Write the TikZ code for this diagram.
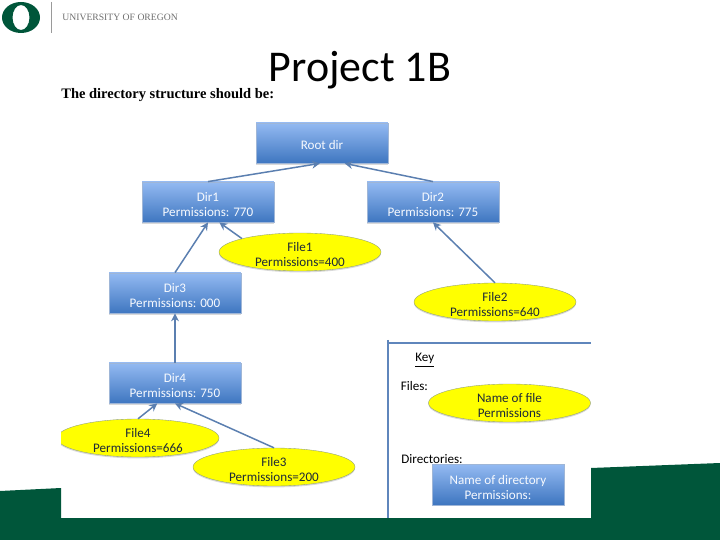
\documentclass[tikz,border=0pt]{standalone}
\usepackage{fontspec}
\setmainfont{Carlito}
\newfontfamily\headfont{Liberation Serif}
\usetikzlibrary{shapes.geometric,arrows.meta,shadows}
\definecolor{UOGreen}{HTML}{00563A}
\definecolor{UOGrey}{HTML}{6E6E6E}
\definecolor{DirTop}{HTML}{94BAF2}
\definecolor{DirBottom}{HTML}{3E76C0}
\definecolor{DirLine}{HTML}{5F86BC}
\definecolor{ArrowBlue}{HTML}{5B7FB0}
\definecolor{FileYellow}{HTML}{FFFF00}
\definecolor{FileLine}{HTML}{8A9A80}
\definecolor{KeyText}{HTML}{1E2A38}

\begin{document}
\begin{tikzpicture}[x=0.02cm, y=-0.02cm,
  dirbox/.style={rectangle, draw=DirLine!60, very thin, top color=DirTop, bottom color=DirBottom,
                 minimum width=2.64cm, minimum height=0.81cm, inner sep=0pt, text height=16.6pt,
                 drop shadow={opacity=0.3, shadow xshift=0pt, shadow yshift=-0.8pt},
                 font=\fontsize{7.45}{8.5}\selectfont, text=white!92!DirTop, align=center},
  filebox/.style={ellipse, draw=FileLine, very thin, fill=FileYellow,
                  minimum width=3.24cm, minimum height=0.76cm, inner xsep=0pt, inner ysep=-3pt, text height=16.6pt,
                  drop shadow={opacity=0.3, shadow xshift=0pt, shadow yshift=-0.8pt},
                  font=\fontsize{7.45}{8.5}\selectfont, text=KeyText, align=center},
  lbl/.style={font=\fontsize{7.45}{8.5}\selectfont, text=black, anchor=west, inner sep=0pt},
  arr/.style={-{Stealth[length=4.5pt,width=4.5pt]}, line width=0.85pt, color=ArrowBlue},
  keyline/.style={draw=DirLine, line width=0.9pt}
]
  \useasboundingbox (0,0) rectangle (720,540);
  % green bands at the foot of the slide
  \fill[UOGreen] (0,518) rectangle (720,540);
  \fill[UOGreen] (0,491) -- (61,488) -- (61,518) -- (0,518) -- cycle;
  \fill[UOGreen] (591,468) -- (720,463) -- (720,518) -- (591,518) -- cycle;
  % logo
  \fill[UOGreen, even odd rule] (21,17.5) ellipse [x radius=19, y radius=15.5]
                                (21,17.5) ellipse [x radius=8.5, y radius=12.5];
  \draw[UOGrey!70, thin] (51,2) -- (51,33);
  \node[font=\headfont\fontsize{5.5}{6}\selectfont, text=UOGrey, anchor=west, inner sep=0pt] (uni) at (62,17.5) {UNIVERSITY OF OREGON};
  \node[font=\fontsize{25}{28}\selectfont, text=black, inner sep=0pt] (title) at (360,70) {Project 1B};
  \node[font=\headfont\bfseries\fontsize{8.25}{9}\selectfont, text=black, anchor=west, inner sep=0pt] (intro) at (61,95.5) {The directory structure should be:};
  % tree
  \node[dirbox, text height=7.2pt] (root) at (322,143) {Root dir};
  \node[dirbox] (dirA) at (208,202) {Dir1\\Permissions: 770};
  \node[dirbox] (dirB) at (433,202) {Dir2\\Permissions: 775};
  \node[dirbox] (dirC) at (175,293) {Dir3\\Permissions: 000};
  \node[dirbox] (dirD) at (175,383) {Dir4\\Permissions: 750};
  \node[filebox] (fileA) at (300,252) {File1\\Permissions=400};
  \node[filebox] (fileB) at (495,302) {File2\\Permissions=640};
  \node[filebox] (fileC) at (274,467) {File3\\Permissions=200};
  \begin{scope}
    \clip (61,400) rectangle (300,470);
    \node[filebox] (fileD) at (138,438) {File4\\Permissions=666};
  \end{scope}
  \draw[arr] (dirA.north) -- (root.-96);
  \draw[arr] (dirB.north) -- (root.-42);
  \draw[arr] (dirC.north) -- (dirA.south);
  \draw[arr] (fileA.167) -- (dirA.-61);
  \draw[arr] (fileB.north) -- (dirB.south);
  \draw[arr] (dirD.north) -- (dirC.south);
  \draw[arr] (fileD.north) -- (dirD.-131);
  \draw[arr] (fileC.north) -- (dirD.south);
  % key
  \draw[keyline] (388,340) -- (388,518);
  \draw[keyline] (388,343) -- (591,343);
  \node[lbl] (keyhead) at (415,360) {\underline{Key}};
  \node[lbl] (keyfile) at (400.5,386) {Files:};
  \node[lbl] (keydir) at (401,459) {Directories:};
  \node[filebox] (keyA) at (509.5,403) {Name of file\\Permissions};
  \node[dirbox] (keyB) at (498,484.5) {Name of directory\\Permissions:};
\end{tikzpicture}
\end{document}
